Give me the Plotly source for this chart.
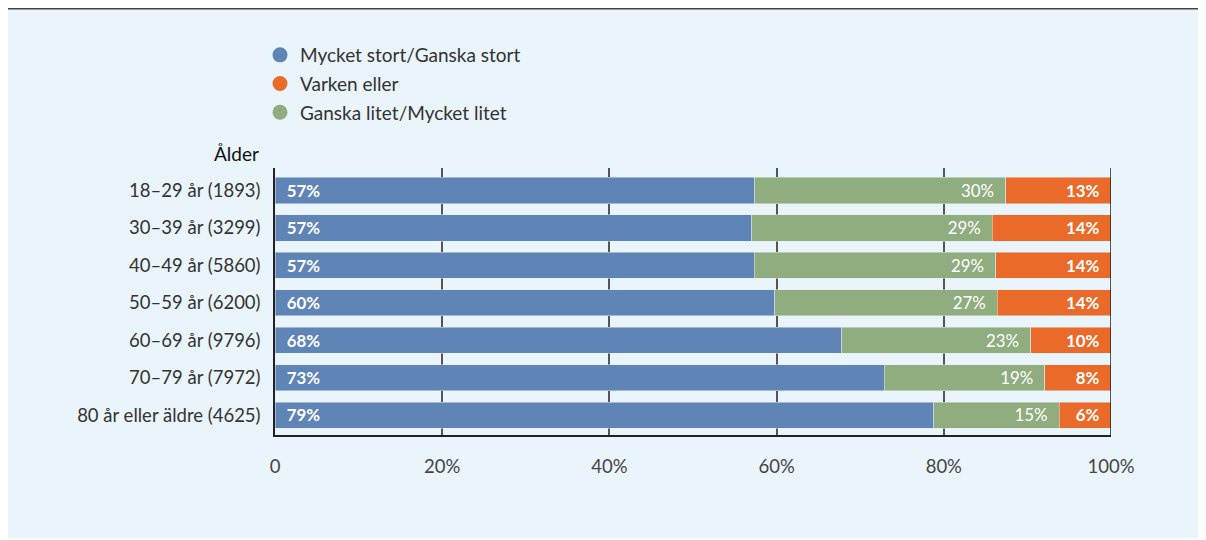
import plotly.graph_objects as go

categories = ["18–29 år (1893)", "30–39 år (3299)", "40–49 år (5860)", "50–59 år (6200)",
              "60–69 år (9796)", "70–79 år (7972)", "80 år eller äldre (4625)"]
stort = [57.4, 57.0, 57.3, 59.8, 67.8, 72.9, 78.8]
litet = [30.0, 28.8, 28.9, 26.6, 22.6, 19.2, 15.0]
varken = [12.6, 14.2, 13.8, 13.6, 9.6, 7.9, 6.2]

names = ["Mycket stort/Ganska stort", "Varken eller", "Ganska litet/Mycket litet"]
colors = {"stort": "#5F84B6", "varken": "#EA6A2A", "litet": "#8FAD7F"}
x_ticks = [0, 20, 40, 60, 80, 100]
x_ticktext = ["0", "20%", "40%", "60%", "80%", "100%"]

FONT = "Lato"
NB = "\u00a0"
LBL = 17.5

fig = go.Figure()
fig.add_trace(go.Bar(y=categories, x=stort, orientation="h", marker_color=colors["stort"],
                     texttemplate=NB * 2 + "<b>%{x:.0f}%</b>", textposition="inside",
                     insidetextanchor="start", textfont=dict(color="white", size=LBL, family=FONT),
                     showlegend=False, hoverinfo="skip"))
fig.add_trace(go.Bar(y=categories, x=litet, orientation="h", marker_color=colors["litet"],
                     texttemplate="%{x:.0f}%" + NB * 2, textposition="inside",
                     insidetextanchor="end", textfont=dict(color="white", size=LBL, family=FONT),
                     showlegend=False, hoverinfo="skip"))
fig.add_trace(go.Bar(y=categories, x=varken, orientation="h", marker_color=colors["varken"],
                     texttemplate="<b>%{x:.0f}%</b>" + NB * 2, textposition="inside",
                     insidetextanchor="end", textfont=dict(color="white", size=LBL, family=FONT),
                     showlegend=False, hoverinfo="skip"))

for nm, key in zip(names, ["stort", "varken", "litet"]):
    fig.add_trace(go.Scatter(x=[None], y=[None], mode="markers", name=nm, legendgroup=nm,
                             marker=dict(symbol="circle", size=15, color=colors[key])))

# page offset: the browser body adds 8px margin on the top/left
OFF = 8
FW, FH = 1206 - OFF, 540 - OFF
L, T = 275 - OFF, 168 - OFF
W, H = 836, 267
R, B = FW - L - W, FH - T - H
# helpers converting screen pixel coords to paper coords
px = lambda x: (x - OFF - L) / W
py = lambda y: (T + H - (y - OFF)) / H

fig.update_layout(
    width=FW, height=FH,
    margin=dict(l=L, r=R, t=T, b=B),
    paper_bgcolor="white", plot_bgcolor="rgba(0,0,0,0)",
    barmode="stack", bargap=0.3,
    font=dict(family=FONT, color="#333333", size=16),
    showlegend=True,
    legend=dict(x=px(260), y=py(36), xanchor="left", yanchor="top",
                font=dict(size=19, color="#333333", family=FONT),
                tracegroupgap=1, bgcolor="rgba(0,0,0,0)", itemsizing="trace"),
    xaxis=dict(range=[0, 100], tickvals=x_ticks, ticktext=x_ticktext, showgrid=True,
               gridcolor="#555555", gridwidth=1.5, zeroline=False, showline=True,
               linecolor="#222222", linewidth=2, ticks="", ticklabelstandoff=14,
               tickfont=dict(size=18.5, color="#444444", family=FONT), fixedrange=True),
    yaxis=dict(categoryorder="array", categoryarray=categories, range=[6.53, -0.6],
               showgrid=False, zeroline=False, showline=True, linecolor="#222222", linewidth=1.5,
               ticks="", ticklabelstandoff=9,
               tickfont=dict(size=18.5, color="#333333", family=FONT), fixedrange=True),
    shapes=[
        dict(type="rect", xref="paper", yref="paper", x0=px(8), x1=px(1198), y0=py(538), y1=py(9),
             fillcolor="#EAF4FB", line=dict(width=0), layer="below"),
        dict(type="line", xref="paper", yref="paper", x0=px(0), x1=px(1206), y0=py(8), y1=py(8),
             line=dict(color="#444444", width=3), layer="below"),
        dict(type="line", xref="x", yref="paper", x0=100, x1=100, y0=0, y1=1,
             line=dict(color="#222222", width=1.5), layer="above"),
    ],
    annotations=[
        dict(text="Ålder", xref="paper", yref="paper", x=px(261), y=py(153), xanchor="right",
             yanchor="middle", showarrow=False, font=dict(size=19, color="#111111", family=FONT)),
    ],
)

fig.write_html("out.html")
